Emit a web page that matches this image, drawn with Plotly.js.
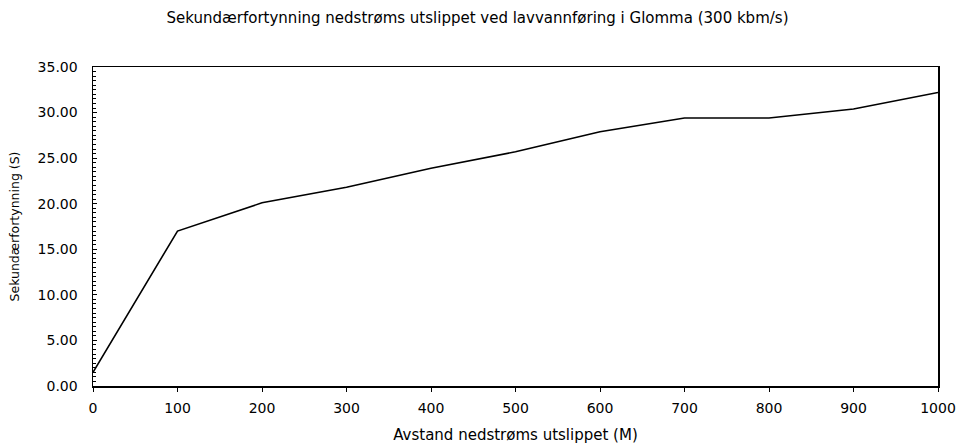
<!DOCTYPE html>
<html>
<head>
<meta charset="utf-8">
<script src="https://cdn.plot.ly/plotly-3.0.1.min.js"></script>
<style>html,body{margin:0;padding:0;background:#fff;}#chart{width:957px;height:445px;}</style>
</head>
<body>
<div id="chart"></div>
<script>
const distance = [0, 100, 200, 300, 400, 500, 600, 700, 800, 900, 1000];
const dilution = [1.5, 17.0, 20.1, 21.8, 23.9, 25.7, 27.9, 29.4, 29.4, 30.4, 32.2];
const titleText = "Sekundærfortynning nedstrøms utslippet ved lavvannføring i Glomma (300 kbm/s)";
const xTitle = "Avstand nedstrøms utslippet (M)";
const yTitle = "Sekundærfortynning (S)";
const xTicks = [0, 100, 200, 300, 400, 500, 600, 700, 800, 900, 1000];
const yTicks = [0, 5, 10, 15, 20, 25, 30, 35];

const font = "DejaVu Sans, sans-serif";
const data = [{
  x: distance, y: dilution, type: "scatter", mode: "lines",
  line: {color: "#000", width: 1.6}, hoverinfo: "skip"
}];
const layout = {
  width: 957, height: 445,
  margin: {l: 93, r: 19, t: 67, b: 59},
  paper_bgcolor: "#fff", plot_bgcolor: "#fff",
  showlegend: false,
  font: {family: font, color: "#000", size: 14},
  title: {text: titleText, font: {family: font, size: 15, color: "#000"}, x: 0.499, xanchor: "center", y: 0.96, yanchor: "middle"},
  xaxis: {
    range: [0, 1000], tickvals: xTicks, ticktext: xTicks.map(String),
    showgrid: false, zeroline: false, showline: true, linecolor: "#000", linewidth: 1.5,
    mirror: true, ticks: "outside", ticklen: 4, tickcolor: "#000", tickwidth: 1,
    ticklabelstandoff: 5,
    tickfont: {family: font, size: 14, color: "#000"},
    title: {text: xTitle, font: {family: font, size: 15, color: "#000"}, standoff: 14}
  },
  yaxis: {
    range: [0, 35], tickvals: yTicks, ticktext: yTicks.map(v => v.toFixed(2)),
    showgrid: false, zeroline: false, showline: true, linecolor: "#000", linewidth: 1.5,
    mirror: true, ticks: "inside", ticklen: 4, tickcolor: "#000", tickwidth: 1,
    minor: {dtick: 0.5, ticks: "inside", ticklen: 3, tickcolor: "#000", tickwidth: 1, showgrid: false},
    ticklabelstandoff: 11,
    tickfont: {family: font, size: 14, color: "#000"},
    title: {text: yTitle, font: {family: font, size: 12.5, color: "#000"}, standoff: 15}
  }
};
Plotly.newPlot("chart", data, layout, {displayModeBar: false, staticPlot: true});
</script>
</body>
</html>
